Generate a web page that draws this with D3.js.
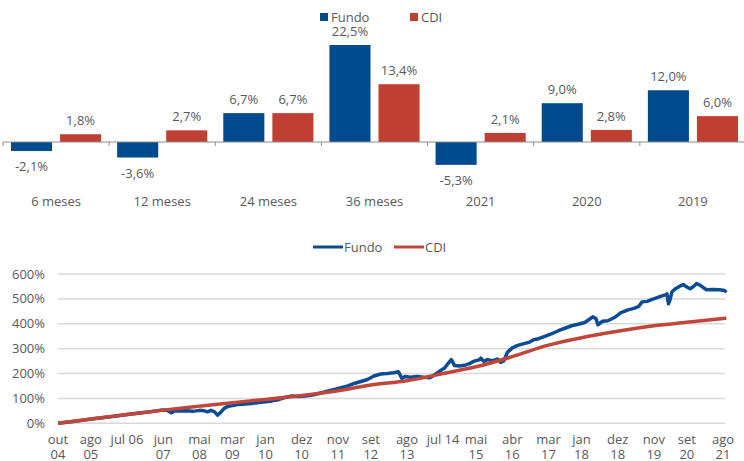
<!DOCTYPE html>
<html>
<head>
<meta charset="utf-8">
<script src="https://cdn.jsdelivr.net/npm/d3@7/dist/d3.min.js"></script>
<style>
  html, body { margin: 0; padding: 0; background: #fff; }
  svg text { font-family: "Open Sans", "DejaVu Sans", sans-serif; fill: #595959; }
</style>
</head>
<body>
<div id="chart"></div>
<script>
// Rentabilidade Fundo x CDI
var categories = ['6 meses', '12 meses', '24 meses', '36 meses', '2021', '2020', '2019'];
var fundoReturns = [-2.1, -3.6, 6.7, 22.5, -5.3, 9.0, 12.0];
var cdiReturns = [1.8, 2.7, 6.7, 13.4, 2.1, 2.8, 6.0];
var seriesNames = ['Fundo', 'CDI'];

// cumulative return (%)
var fundoCumulative = [
  ['2004-10-01', 0], ['2005-02-01', 6], ['2005-06-01', 13], ['2005-10-01', 20],
  ['2006-02-01', 26], ['2006-06-01', 33], ['2006-10-01', 40], ['2007-02-01', 46],
  ['2007-05-01', 52], ['2007-06-15', 53], ['2007-07-15', 50], ['2007-08-15', 42],
  ['2007-09-15', 50], ['2007-11-01', 49], ['2008-01-01', 50], ['2008-03-01', 48],
  ['2008-05-01', 52], ['2008-06-15', 50], ['2008-07-15', 46], ['2008-08-15', 52],
  ['2008-09-15', 47], ['2008-10-15', 33], ['2008-11-15', 45], ['2008-12-15', 60],
  ['2009-01-15', 67], ['2009-03-01', 71], ['2009-05-01', 76], ['2009-07-01', 78],
  ['2009-09-01', 80], ['2009-11-01', 84], ['2010-01-01', 87], ['2010-03-01', 90],
  ['2010-05-01', 95], ['2010-07-01', 104], ['2010-09-01', 110], ['2010-11-01', 108],
  ['2011-01-01', 110], ['2011-03-01', 113], ['2011-05-01', 119], ['2011-07-01', 126],
  ['2011-08-15', 131], ['2011-10-01', 136], ['2011-12-01', 143], ['2012-02-01', 150],
  ['2012-04-01', 160], ['2012-06-01', 168], ['2012-08-01', 176], ['2012-10-01', 190],
  ['2012-12-01', 198], ['2013-02-01', 200], ['2013-04-01', 203], ['2013-05-15', 207],
  ['2013-06-15', 180], ['2013-07-15', 188], ['2013-09-01', 185], ['2013-11-01', 188],
  ['2014-01-01', 185], ['2014-03-01', 183], ['2014-04-15', 195], ['2014-06-01', 210],
  ['2014-07-15', 222], ['2014-08-15', 240], ['2014-09-15', 256], ['2014-10-15', 232],
  ['2014-12-01', 230], ['2015-01-15', 233], ['2015-03-01', 240], ['2015-04-15', 250],
  ['2015-06-01', 255], ['2015-06-15', 262], ['2015-07-15', 248], ['2015-08-15', 256],
  ['2015-10-01', 252], ['2015-11-15', 258], ['2015-12-15', 245], ['2016-01-15', 252],
  ['2016-02-15', 285], ['2016-04-01', 303], ['2016-05-15', 312], ['2016-07-01', 318],
  ['2016-09-01', 325], ['2016-10-15', 336], ['2016-12-01', 340], ['2017-02-01', 350],
  ['2017-04-01', 360], ['2017-06-01', 372], ['2017-08-01', 382], ['2017-10-01', 392],
  ['2017-12-01', 398], ['2018-02-01', 405], ['2018-03-15', 418], ['2018-04-15', 428],
  ['2018-05-15', 420], ['2018-06-01', 396], ['2018-07-15', 410], ['2018-09-01', 412],
  ['2018-11-01', 425], ['2019-01-01', 445], ['2019-03-01', 455], ['2019-05-01', 462],
  ['2019-06-15', 470], ['2019-07-15', 488], ['2019-09-01', 490], ['2019-10-15', 498],
  ['2019-12-01', 505], ['2020-01-15', 512], ['2020-02-15', 516], ['2020-03-01', 520],
  ['2020-03-15', 480], ['2020-04-01', 500], ['2020-04-15', 528], ['2020-05-15', 540],
  ['2020-07-01', 552], ['2020-08-01', 557], ['2020-09-01', 548], ['2020-10-01', 541],
  ['2020-11-01', 550], ['2020-12-01', 562], ['2021-01-01', 555], ['2021-02-01', 545],
  ['2021-03-01', 537], ['2021-05-01', 538], ['2021-07-01', 537], ['2021-08-15', 534],
  ['2021-09-01', 526]
];

var cdiCumulative = [
  ['2004-10-01', 0], ['2005-08-01', 17], ['2006-07-01', 35], ['2007-06-01', 53],
  ['2008-05-01', 69], ['2009-03-01', 83], ['2010-01-01', 96], ['2010-12-01', 112],
  ['2011-11-01', 131], ['2012-09-01', 154], ['2013-08-01', 171], ['2014-07-01', 200],
  ['2015-05-01', 227], ['2016-04-01', 268], ['2017-03-01', 314], ['2018-01-01', 344],
  ['2018-12-01', 370], ['2019-11-01', 392], ['2020-09-01', 406], ['2021-09-01', 423]
];

var tickDates = ['2004-10-01', '2005-08-01', '2006-07-01', '2007-06-01', '2008-05-01',
  '2009-03-01', '2010-01-01', '2010-12-01', '2011-11-01', '2012-09-01', '2013-08-01',
  '2014-07-01', '2015-05-01', '2016-04-01', '2017-03-01', '2018-01-01', '2018-12-01',
  '2019-11-01', '2020-09-01', '2021-08-01'];
var tickLabels = ['out\n04', 'ago\n05', 'jul 06', 'jun\n07', 'mai\n08', 'mar\n09', 'jan\n10',
  'dez\n10', 'nov\n11', 'set\n12', 'ago\n13', 'jul 14', 'mai\n15', 'abr\n16', 'mar\n17',
  'jan\n18', 'dez\n18', 'nov\n19', 'set\n20', 'ago\n21'];
var yTicks = [0, 100, 200, 300, 400, 500, 600];

(function() {
  'use strict';

  var width = 744, height = 461;
  var colors = { 'Fundo': '#004B8D', 'CDI': '#BF4033' };
  var lineColors = { 'Fundo': '#0B4C94', 'CDI': '#C0463A' };

  var ptBR = d3.formatLocale({ decimal: ',', thousands: '.', grouping: [3], currency: ['R$', ''], minus: '-' });
  var fmtPct = ptBR.format('.1f');

  var svg = d3.select('#chart').append('svg')
    .attr('width', width)
    .attr('height', height);

  // ---------- bar chart ----------
  var x0 = d3.scaleBand().domain(categories).range([3, 746]).padding(0);
  var x1 = d3.scaleBand().domain(seriesNames).range([0, x0.bandwidth()])
    .paddingInner(0.163).paddingOuter(0.163);
  var yBar = d3.scaleLinear().domain([0, 22.5]).range([142, 45]);

  var rows = categories.map(function(c, i) {
    return { cat: c, values: [
      { key: 'Fundo', v: fundoReturns[i] },
      { key: 'CDI', v: cdiReturns[i] }
    ] };
  });

  var barG = svg.append('g');

  var group = barG.selectAll('.cat')
    .data(rows)
    .enter().append('g')
    .attr('class', 'cat')
    .attr('transform', function(d) { return 'translate(' + x0(d.cat) + ',0)'; });

  group.selectAll('rect')
    .data(function(d) { return d.values; })
    .enter().append('rect')
    .attr('x', function(d) { return x1(d.key); })
    .attr('width', x1.bandwidth())
    .attr('y', function(d) { return Math.min(yBar(d.v), yBar(0)); })
    .attr('height', function(d) { return Math.abs(yBar(d.v) - yBar(0)); })
    .attr('fill', function(d) { return colors[d.key]; });

  group.selectAll('.val')
    .data(function(d) { return d.values; })
    .enter().append('text')
    .attr('class', 'val')
    .attr('x', function(d) { return x1(d.key) + x1.bandwidth() / 2; })
    .attr('y', function(d) { return d.v >= 0 ? yBar(d.v) - 9 : yBar(d.v) + 20; })
    .attr('text-anchor', 'middle')
    .attr('font-size', '13px')
    .text(function(d) { return fmtPct(d.v) + '%'; });

  // baseline with category ticks
  barG.append('line')
    .attr('x1', 3).attr('x2', width)
    .attr('y1', yBar(0)).attr('y2', yBar(0))
    .attr('stroke', '#8c8c8c').attr('stroke-width', 1);

  barG.selectAll('.ctick')
    .data(categories)
    .enter().append('line')
    .attr('class', 'ctick')
    .attr('x1', function(d) { return x0(d); })
    .attr('x2', function(d) { return x0(d); })
    .attr('y1', yBar(0)).attr('y2', yBar(0) + 4)
    .attr('stroke', '#8c8c8c');

  barG.selectAll('.clabel')
    .data(categories)
    .enter().append('text')
    .attr('class', 'clabel')
    .attr('x', function(d) { return x0(d) + x0.bandwidth() / 2; })
    .attr('y', 206)
    .attr('text-anchor', 'middle')
    .attr('font-size', '13px')
    .text(function(d) { return d; });

  // legend
  var barLegend = [{ key: 'Fundo', x: 320 }, { key: 'CDI', x: 410 }];
  var bl = barG.selectAll('.bleg')
    .data(barLegend)
    .enter().append('g')
    .attr('transform', function(d) { return 'translate(' + d.x + ',13)'; });
  bl.append('rect').attr('width', 8).attr('height', 8)
    .attr('fill', function(d) { return colors[d.key]; });
  bl.append('text').attr('x', 11).attr('y', 9)
    .attr('font-size', '13px')
    .text(function(d) { return d.key; });

  // ---------- line chart ----------
  var parse = d3.timeParse('%Y-%m-%d');
  var xTime = d3.scaleTime()
    .domain([parse('2004-10-01'), parse('2021-08-01')])
    .range([58, 723]);
  var yLine = d3.scaleLinear().domain([0, 600]).range([423.3, 274]);

  var lineG = svg.append('g');

  lineG.selectAll('.grid')
    .data(yTicks)
    .enter().append('line')
    .attr('class', 'grid')
    .attr('x1', 58).attr('x2', 725)
    .attr('y1', function(d) { return yLine(d); })
    .attr('y2', function(d) { return yLine(d); })
    .attr('stroke', '#d9d9d9')
    .attr('stroke-width', 1.5);

  lineG.selectAll('.ylab')
    .data(yTicks)
    .enter().append('text')
    .attr('class', 'ylab')
    .attr('x', 45)
    .attr('y', function(d) { return yLine(d) + 4.5; })
    .attr('text-anchor', 'end')
    .attr('font-size', '13px')
    .text(function(d) { return d + '%'; });

  var xl = lineG.selectAll('.xlab')
    .data(tickDates.map(function(d, i) { return { date: parse(d), label: tickLabels[i] }; }))
    .enter().append('text')
    .attr('class', 'xlab')
    .attr('text-anchor', 'middle')
    .attr('font-size', '13px');

  xl.selectAll('tspan')
    .data(function(d) {
      return d.label.split('\n').map(function(s, i) { return { s: s, i: i, x: xTime(d.date) }; });
    })
    .enter().append('tspan')
    .attr('x', function(d) { return d.x; })
    .attr('y', function(d) { return 444 + d.i * 14.5; })
    .text(function(d) { return d.s; });

  var line = d3.line()
    .x(function(d) { return xTime(parse(d[0])); })
    .y(function(d) { return yLine(d[1]); });

  lineG.append('path')
    .datum(fundoCumulative)
    .attr('fill', 'none')
    .attr('stroke', lineColors.Fundo)
    .attr('stroke-width', 3.5)
    .attr('stroke-linejoin', 'round')
    .attr('d', line);

  lineG.append('path')
    .datum(cdiCumulative)
    .attr('fill', 'none')
    .attr('stroke', lineColors.CDI)
    .attr('stroke-width', 3.5)
    .attr('d', line.curve(d3.curveMonotoneX));

  // legend
  var lineLegend = [{ key: 'Fundo', x: 313 }, { key: 'CDI', x: 394 }];
  var ll = lineG.selectAll('.lleg')
    .data(lineLegend)
    .enter().append('g')
    .attr('transform', function(d) { return 'translate(' + d.x + ',247)'; });
  ll.append('line').attr('x1', 0).attr('x2', 30)
    .attr('stroke', function(d) { return lineColors[d.key]; })
    .attr('stroke-width', 3);
  ll.append('text').attr('x', 31).attr('y', 4.5)
    .attr('font-size', '13px')
    .text(function(d) { return d.key; });
})();
</script>
</body>
</html>
